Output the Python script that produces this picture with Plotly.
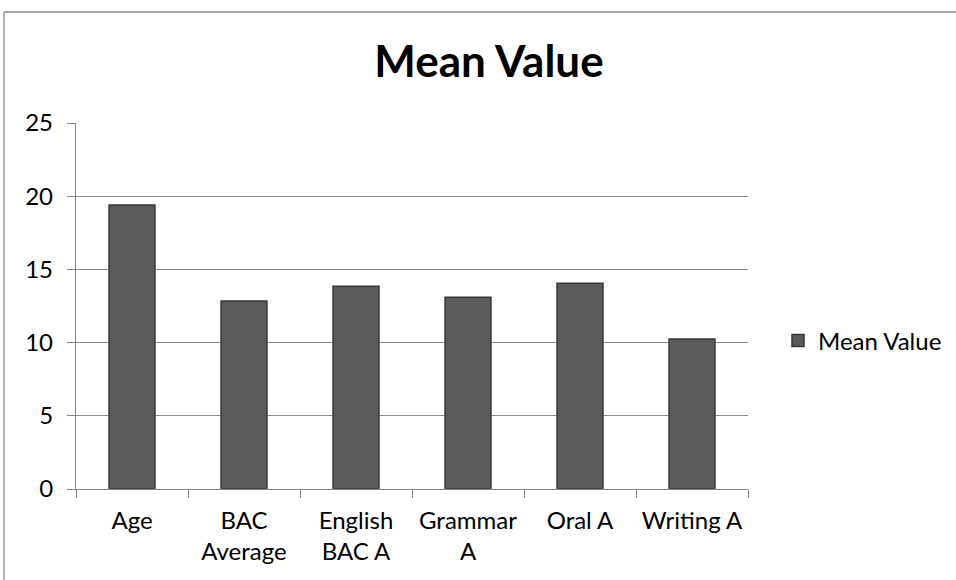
import plotly.graph_objects as go

categories = ["Age", "BAC<br>Average", "English<br>BAC A", "Grammar<br>A", "Oral A", "Writing A"]
mean_values = [19.4, 12.85, 13.85, 13.1, 14.05, 10.25]
y_ticks = [0, 5, 10, 15, 20, 25]

W, H = 956, 580
L, R, T, B = 76, 208, 123, 91
pw, ph = W - L - R, H - T - B

fig = go.Figure()
fig.add_trace(go.Bar(
    x=categories, y=mean_values, name="Mean Value",
    marker=dict(color="#5b5b5b", line=dict(color="#383838", width=1.5)),
    width=0.41, showlegend=True,
))

font = "Lato, Open Sans, sans-serif"
fig.update_layout(
    width=W, height=H,
    margin=dict(l=L, r=R, t=T, b=B, autoexpand=False),
    paper_bgcolor="white", plot_bgcolor="white",
    title=dict(text="<b>Mean Value</b>", x=489 / W, xanchor="center",
               y=1 - 62 / H, yanchor="middle",
               font=dict(family=font, size=44, color="black")),
    font=dict(family=font, size=24, color="black"),
    showlegend=True,
    legend=dict(x=(778 - L) / pw, y=(489 - 341) / ph, xanchor="left", yanchor="middle",
                font=dict(size=24), itemwidth=30, bgcolor="rgba(0,0,0,0)"),
    xaxis=dict(showline=True, linecolor="#868686", linewidth=1.3,
               ticks="outside", ticklen=8, tickcolor="#868686", tickson="boundaries",
               showgrid=False, tickfont=dict(size=24), ticklabelstandoff=10),
    yaxis=dict(range=[0, 25], tickvals=y_ticks, showline=True, linecolor="#868686", linewidth=1.3,
               ticks="outside", ticklen=8, tickcolor="#868686",
               showgrid=True, gridcolor="#8c8c8c", gridwidth=1.3, zeroline=False,
               tickfont=dict(size=24), ticklabelstandoff=9),
    shapes=[
        dict(type="line", xref="paper", yref="paper",
             x0=(4 - L) / pw, x1=(4 - L) / pw, y0=(H - 12 - B) / ph, y1=(H - B - H) / ph - 0.01,
             line=dict(color="#8a8a8a", width=1.3)),
        dict(type="line", xref="paper", yref="paper",
             x0=(4 - L) / pw, x1=(W - L) / pw + 0.01, y0=(H - 12 - B) / ph, y1=(H - 12 - B) / ph,
             line=dict(color="#8a8a8a", width=1.3)),
    ],
)

fig.write_html("out.html")
